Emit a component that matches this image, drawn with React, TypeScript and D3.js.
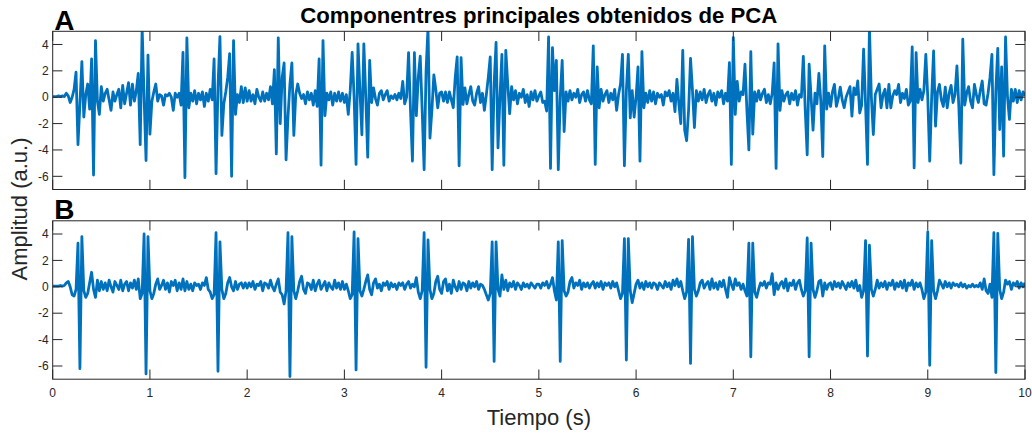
import React from 'react';
import * as d3 from 'd3';

// Sampling interval of both principal components (seconds)
const SAMPLE_STEP = 0.02;

// Principal component 1 (panel A), one value per sample, 0 – 10 s
const pcA: number[] = [
  0.05, 0.05, 0.05, 0.1, 0.05, 0.1, 0.05, 0.3, 0.1, -0.4, 0.0, 0.6, 1.9, -3.6, -0.5, 2.7, -1.5, 0.2, 1.0, -0.9, 2.9, -5.9, 4.3, -0.3, -1.3,
  0.8, -0.3, 0.3, 0.6, -0.2, -1.0, 0.4, -0.3, 0.2, 0.6, -0.8, 0.9, -0.5, 0.3, 1.1, -0.6, 1.0, -0.3, 0.5, 1.8, -3.6, 5.3, 0.0, -4.8, 3.2,
  -2.8, -0.3, 0.4, 1.0, -0.3, 0.2, 0.1, -0.6, 0.2, 0.1, 0.3, 0.0, -1.0, 0.3, 0.0, 0.3, -0.6, 3.4, -6.1, 4.5, -0.8, 0.3, -0.3, 0.5, -0.5,
  0.3, -0.2, 0.4, -0.7, 0.3, -0.3, 0.6, -0.2, 2.9, -5.8, 0.8, 4.6, -2.9, -0.5, 0.4, 1.5, 3.3, -6.0, 4.3, -1.3, 0.2, -0.4, 0.8, -0.4, 0.7,
  -0.3, 0.5, -0.3, 0.2, -0.5, 0.6, 0.0, -0.3, 0.4, -0.3, 0.3, -0.2, 0.8, -0.5, 2.1, -4.3, 4.5, -2.0, 1.5, 2.6, -4.75, -1.5, 1.0, 2.6, -2.9,
  0.2, 1.0, 0.3, -0.1, 0.2, -0.5, 0.4, -0.2, 0.3, -0.6, 0.5, -0.7, 2.9, -5.15, 4.3, -1.4, 0.3, -0.2, 0.4, -0.6, 0.3, -0.3, 0.4, -0.3, 0.3,
  -0.4, 0.2, -1.3, 0.5, 3.4, 0.0, -5.1, 4.05, 0.5, -2.85, 4.05, 0.0, -4.55, 2.8, -0.4, 0.7, -0.1, -0.6, 0.3, 0.5, -0.2, 0.2, 0.5, -0.3, 0.1,
  -0.1, 0.2, -0.2, 0.3, -0.1, 1.2, -0.5, 0.0, 3.38, -1.0, -4.85, 3.38, -1.4, 1.5, 3.12, -1.0, -5.5, 2.0, 5.3, -3.1, -1.0, 1.7, 0.6, -0.8, 0.3,
  0.4, -0.3, 0.4, -0.4, 0.4, -0.2, -0.8, 1.5, 3.06, -5.2, 3.0, -0.55, 0.7, -0.5, 0.2, 0.8, -0.3, -0.6, 0.3, 0.8, -0.4, 0.3, -1.0, 0.2, 1.5,
  3.06, -5.5, 1.0, 4.15, -3.85, 0.0, 3.25, -5.16, 3.56, 1.0, -1.25, 0.8, -0.2, 0.5, -0.5, 0.3, 0.0, 0.6, -0.4, 0.2, -0.7, 0.4, -0.2, 0.5, -0.3,
  0.1, 0.4, -0.4, -0.3, -1.05, 4.57, -5.4, 3.76, 0.5, 2.8, -5.5, 0.0, 2.8, -2.6, 0.4, -0.3, 0.5, -0.2, 0.3, 0.0, 0.6, -0.4, 0.2, 0.4, -0.3,
  0.5, -0.2, -0.5, 3.9, -5.1, 2.3, -0.8, 0.6, -0.3, 0.2, 0.5, -0.4, 0.3, -0.2, 0.6, -1.0, 0.2, 1.0, 3.25, -5.2, 0.5, 3.25, -1.57, 0.5, -1.5,
  0.0, 2.3, -4.85, 3.46, -0.8, 0.3, -0.4, 0.5, -0.3, 0.4, -0.5, 0.3, 0.0, 0.2, -0.6, 0.4, 0.1, 0.5, -0.3, 0.3, -1.1, 1.35, -0.5, -2.0, 3.56,
  -2.5, -3.3, -1.0, 2.95, 0.5, -2.3, 0.5, -0.3, 0.4, -0.2, 0.6, -0.4, 0.2, 0.5, -0.3, 0.3, -0.6, 0.4, 0.0, 0.5, -0.5, 0.3, -0.3, 2.62, -5.1,
  4.52, -1.3, 1.2, -0.3, 0.4, 0.2, 2.5, -1.0, -4.0, 3.46, -2.8, 0.4, -0.3, 0.5, -0.2, 0.3, 0.6, -0.4, 0.2, -0.5, 0.3, 2.6, -5.4, 4.05, -1.0,
  0.5, -0.3, 0.2, 0.4, -0.5, 0.3, -0.2, 0.5, -0.6, 0.2, 0.0, 3.1, -1.0, -4.37, 2.5, 0.0, -2.5, 0.3, -0.5, 1.8, -0.3, -4.5, 3.9, -0.9, 0.3,
  -0.7, 0.4, 0.97, -0.7, -0.1, 0.77, -0.2, -0.8, 0.0, 0.4, 0.8, -1.43, 0.7, 0.2, 1.23, -1.2, -0.6, 3.64, -0.5, -5.1, 5.3, 0.0, -2.83, 0.2, 0.6,
  1.0, -0.8, 0.2, 0.6, -0.8, 0.97, -0.8, 0.1, 0.5, 0.2, 0.97, -0.4, 0.3, -0.1, 0.6, -0.6, -0.3, 3.81, -5.36, 3.38, -0.4, 0.6, -0.2, 0.5, 3.25,
  0.0, -4.85, 0.0, 3.51, -2.2, 0.4, 0.97, -0.2, -0.7, 0.77, -0.8, 0.3, 0.9, -0.4, 0.2, 2.38, -0.8, -5.0, 4.4, -0.6, 0.3, 0.8, -0.3, -0.8, 0.97,
  0.2, -0.4, 0.5, 1.23, -0.5, -0.6, 0.3, 1.5, 3.25, -5.87, 0.5, 3.71, -2.45, 2.3, -4.47, 4.57, 0.0, -1.68, 0.6, -0.3, 0.6, -0.4, 0.5, -0.2, 0.4,
  0.1,
];

// Principal component 2 (panel B), one value per sample, 0 – 10 s
const pcB: number[] = [
  0.05, 0.05, 0.05, 0.05, 0.1, 0.05, 0.1, 0.3, 0.4, 0.0, -0.6, -0.7, -0.2, 3.3, -6.2, 3.8, -0.3, -0.8, -0.5, 0.3, 1.1, -0.2, -0.8, 0.5, -0.3,
  0.4, -0.2, 0.3, -0.3, 0.5, 0.0, -0.4, 0.4, 0.1, -0.2, 0.5, -0.3, 0.2, 0.4, -0.3, 0.3, -0.1, 0.5, -0.2, 0.6, -0.9, -0.5, 4.0, -6.6, 3.8,
  -0.3, -0.9, -0.5, 0.2, 0.6, -0.2, 0.1, 0.5, -0.2, 0.3, -0.4, 0.4, 0.1, 0.5, -0.3, 0.3, -0.2, 0.6, -0.3, 0.4, -0.2, 0.2, -0.3, 0.3, 0.1,
  0.2, -0.2, 0.3, 0.1, 0.7, -0.2, -0.4, -0.9, -0.6, 4.1, -6.4, 3.4, -0.2, -0.9, -0.5, 0.3, 0.7, 0.0, -0.3, 0.4, -0.2, 0.2, 0.3, -0.1, 0.3,
  -0.1, 0.3, 0.0, 0.4, -0.2, 0.2, 0.1, 0.4, -0.3, 0.3, 0.2, -0.1, 0.5, 0.0, -0.3, 0.2, 0.6, -0.4, -0.6, -1.3, -0.3, 4.1, -6.8, 3.8, -0.3,
  -0.9, -0.3, 0.4, 0.8, -0.2, -0.5, 0.3, 0.2, -0.2, 0.5, -0.3, 0.2, 0.5, -0.2, 0.1, 0.4, -0.3, 0.3, 0.0, -0.2, 0.5, -0.1, 0.3, -0.2, 0.4,
  -0.2, 0.2, -0.3, -0.9, -0.6, 4.15, -6.3, 3.65, -0.3, -0.7, -0.2, 0.4, 0.9, -0.2, -0.6, 0.3, 0.6, -0.1, 0.2, -0.3, 0.3, 0.1, 0.4, -0.2, 0.3,
  0.0, 0.2, -0.2, 0.3, 0.1, 0.3, -0.2, 0.2, 0.4, -0.1, 0.2, 0.0, 0.7, -0.4, -0.9, -0.3, 4.1, -6.1, 3.55, -0.2, -0.9, -0.5, 0.4, 0.8, -0.2,
  -0.5, 0.4, 0.6, -0.3, 0.2, -0.5, 0.5, 0.0, -0.3, 0.4, -0.2, 0.3, 0.2, -0.3, 0.4, -0.1, 0.3, 0.0, 0.4, -0.2, 0.2, 0.1, -0.2, -0.6, -1.0,
  -0.5, 3.4, -5.65, 3.4, -0.2, -0.7, 0.9, -0.2, 0.5, -0.3, 0.3, 0.0, 0.4, -0.2, 0.3, 0.1, -0.2, 0.3, 0.0, 0.2, -0.1, 0.3, 0.1, -0.1, 0.2,
  0.2, -0.1, 0.3, 0.1, 0.4, -0.1, 0.2, 0.7, -0.3, -1.0, 3.4, -5.65, 3.5, -0.3, -0.7, -0.4, 0.4, 0.7, -0.1, 0.3, 0.1, 0.5, -0.2, 0.3, 0.0,
  0.3, -0.1, 0.2, 0.4, -0.1, 0.3, 0.0, 0.4, -0.2, 0.3, 0.1, 0.3, -0.1, 0.4, 0.0, 0.3, -0.3, -0.9, -0.5, 3.65, -5.55, 3.65, -0.3, -1.2, -0.5,
  0.2, 0.5, -0.1, 0.3, -0.2, 0.4, 0.0, 0.3, -0.1, 0.3, 0.2, -0.2, 0.3, 0.1, -0.1, 0.4, 0.0, 0.3, -0.2, 0.5, 0.1, 0.6, 0.0, 0.4, -0.3,
  -0.9, -0.4, 3.6, -5.8, 3.8, -0.2, -0.7, -0.3, 0.3, 0.5, -0.1, 0.2, 0.4, -0.2, 0.6, -0.1, 0.3, -0.2, 0.4, 0.0, 0.5, -0.2, -0.8, 0.7, 0.2,
  -0.2, 0.6, 0.1, 0.3, -0.2, 0.2, -0.3, -0.7, 3.3, -5.3, 3.3, -0.4, -0.8, -0.2, 0.3, 0.1, 0.4, -0.1, 0.3, 0.2, 1.0, -0.6, 0.3, -0.2, 0.2,
  0.4, -0.1, 0.6, -0.3, 0.3, 0.1, 0.5, -0.2, 0.3, 0.5, -0.2, -0.7, -0.3, 3.7, -5.3, 3.3, -0.2, -0.8, -0.3, 0.4, 0.5, -0.7, 0.3, -0.2, 0.2,
  0.3, -0.2, 0.4, 0.0, 0.3, -0.1, 0.4, 0.1, -0.2, 0.3, 0.0, 0.4, -0.1, 0.5, -0.3, 0.1, -0.8, -0.3, 3.5, -5.25, 3.15, -0.2, -0.7, -0.2, 0.5,
  -0.1, 0.3, 0.0, 0.4, -0.2, 0.3, 0.1, 0.5, -0.2, 0.3, 0.0, 0.4, -0.1, 0.5, -0.3, 0.3, 0.1, 0.5, -0.2, 0.3, 0.0, 0.3, -0.2, -0.9, -0.4,
  4.15, -5.95, 3.5, -0.3, -0.9, -0.3, 0.5, 0.2, -0.1, 0.4, 0.0, 0.3, -0.1, 0.3, 0.1, 0.2, 0.0, 0.3, 0.0, 0.2, -0.1, 0.1, 0.0, 0.2, 0.0,
  0.1, 0.0, 0.3, -0.2, 0.6, -0.3, -0.5, 0.2, -0.8, 4.1, -6.5, 4.05, -0.2, -0.9, -0.4, 0.5, 0.2, 0.4, -0.2, 0.3, 0.1, 0.4, -0.1, 0.3, 0.0,
  0.3,
];

const xTicks: number[] = [0, 1, 2, 3, 4, 5, 6, 7, 8, 9, 10];
const yTicks: number[] = [-6, -4, -2, 0, 2, 4];
const panelLetters: string[] = ['A', 'B'];
const titleText = 'Componentres principales obtenidos de PCA';
const xLabelText = 'Tiempo (s)';
const yLabelText = 'Amplitud (a.u.)';

const W = 1032;
const H = 436;
const LEFT = 52.7;
const RIGHT = 1025;
const TICK_LEN = 9.7;
const LINE_COLOR = '#0072BD';
const AXIS_COLOR = '#262626';
const FONT = '"Liberation Sans", Arial, Helvetica, sans-serif';

const panelBoxes = [
  { top: 31.3, bottom: 189.5 },
  { top: 220.8, bottom: 379.2 },
];

const x = d3.scaleLinear().domain([0, 10]).range([LEFT, RIGHT]);

function Panel({ index, values, showXLabels }: { index: number; values: number[]; showXLabels: boolean }) {
  const box = panelBoxes[index];
  const y = d3.scaleLinear().domain([-7, 5]).range([box.bottom, box.top]);
  const line = d3
    .line<number>()
    .x((_, i) => x(i * SAMPLE_STEP))
    .y((v) => y(v));
  const clipId = `plot-clip-${index}`;
  return (
    <g>
      <defs>
        <clipPath id={clipId}>
          <rect x={LEFT} y={box.top} width={RIGHT - LEFT} height={box.bottom - box.top} />
        </clipPath>
      </defs>
      <path
        d={line(values) ?? ''}
        fill="none"
        stroke={LINE_COLOR}
        strokeWidth={2.8}
        strokeLinejoin="round"
        clipPath={`url(#${clipId})`}
      />
      {/* axes box */}
      <rect
        x={LEFT}
        y={box.top}
        width={RIGHT - LEFT}
        height={box.bottom - box.top}
        fill="none"
        stroke={AXIS_COLOR}
        strokeWidth={1}
      />
      {/* y ticks, left and mirrored right */}
      {yTicks.map((t) => (
        <g key={`y${t}`}>
          <line x1={LEFT} x2={LEFT + TICK_LEN} y1={y(t)} y2={y(t)} stroke={AXIS_COLOR} strokeWidth={1} />
          <line x1={RIGHT} x2={RIGHT - TICK_LEN} y1={y(t)} y2={y(t)} stroke={AXIS_COLOR} strokeWidth={1} />
          <text
            x={LEFT - 4}
            y={y(t)}
            dy="0.35em"
            textAnchor="end"
            fontFamily={FONT}
            fontSize={12}
            fill={AXIS_COLOR}
          >
            {t}
          </text>
        </g>
      ))}
      {/* x ticks, bottom and mirrored top */}
      {xTicks.map((t) => (
        <g key={`x${t}`}>
          <line x1={x(t)} x2={x(t)} y1={box.bottom} y2={box.bottom - TICK_LEN} stroke={AXIS_COLOR} strokeWidth={1} />
          <line x1={x(t)} x2={x(t)} y1={box.top} y2={box.top + TICK_LEN} stroke={AXIS_COLOR} strokeWidth={1} />
          {showXLabels && (
            <text
              x={x(t)}
              y={box.bottom + 18}
              textAnchor="middle"
              fontFamily={FONT}
              fontSize={12}
              fill={AXIS_COLOR}
            >
              {t}
            </text>
          )}
        </g>
      ))}
      <text
        x={LEFT + 1.5}
        y={box.top - 1.5}
        fontFamily={FONT}
        fontWeight="bold"
        fontSize={28}
        fill="#000"
      >
        {panelLetters[index]}
      </text>
    </g>
  );
}

export default function App() {
  return (
    <svg
      width={W}
      height={H}
      viewBox={`0 0 ${W} ${H}`}
      style={{ position: 'absolute', left: 0, top: 0, background: '#fff' }}
    >
      <rect width={W} height={H} fill="#fff" />
      <text
        x={(LEFT + RIGHT) / 2}
        y={22.7}
        textAnchor="middle"
        fontFamily={FONT}
        fontWeight="bold"
        fontSize={22.2}
        fill="#000"
      >
        {titleText}
      </text>
      <Panel index={0} values={pcA} showXLabels={false} />
      <Panel index={1} values={pcB} showXLabels={true} />
      <text
        x={(LEFT + RIGHT) / 2}
        y={425}
        textAnchor="middle"
        fontFamily={FONT}
        fontSize={22}
        fill={AXIS_COLOR}
      >
        {xLabelText}
      </text>
      <text
        transform={`translate(26.5, 209) rotate(-90)`}
        textAnchor="middle"
        fontFamily={FONT}
        fontSize={22}
        fill={AXIS_COLOR}
      >
        {yLabelText}
      </text>
    </svg>
  );
}
